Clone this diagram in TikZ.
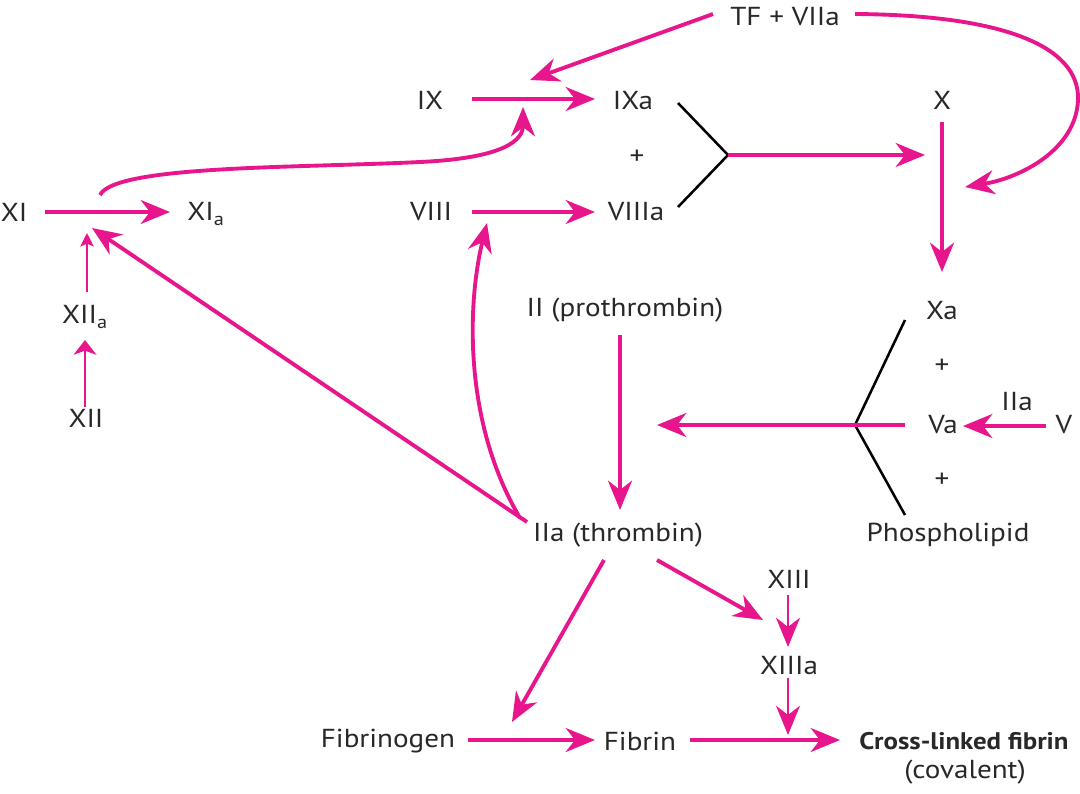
\documentclass[tikz,border=0pt]{standalone}
\usepackage{fontspec}
\setmainfont{PT Sans}[FakeStretch=1.12]
\usetikzlibrary{arrows.meta}
\definecolor{mag}{RGB}{232,22,140}
\definecolor{txt}{RGB}{40,40,40}
\begin{document}
\begin{tikzpicture}[x=0.75pt,y=-0.75pt,
  lbl/.style={font=\fontsize{19.5}{22}\selectfont, text=txt, inner sep=0pt},
  arr/.style={draw=mag, line width=2.9pt, -{Stealth[length=22pt,width=18pt,inset=7pt]}},
  sarr/.style={draw=mag, line width=1.8pt, -{Stealth[length=22pt,width=18pt,inset=7pt]}},
  tarr/.style={draw=mag, line width=2pt, -{Stealth[length=11pt,width=17pt,inset=3pt]}},
  uarr/.style={draw=mag, line width=1.8pt, -{Stealth[length=10pt,width=10pt,inset=2pt]}},
  brk/.style={draw=black, line width=1.9pt}]
\useasboundingbox (0,0) rectangle (1080,793);
% nodes
\node[lbl] (TF) at (785,17) {TF + VIIa};
\node[lbl] (IX) at (430,100) {IX};
\node[lbl] (IXa) at (633,100) {IXa};
\node[lbl] (p1) at (637,157) {+};
\node[lbl] (VIIIa) at (636,212) {VIIIa};
\node[lbl] (VIII) at (431,212) {VIII};
\node[lbl] (X) at (942,100) {X};
\node[lbl] (XI) at (14,212) {XI};
\node[lbl] (XIa) at (206,214) {XI\textsubscript{a}};
\node[lbl] (XIIa) at (85,317) {XII\textsubscript{a}};
\node[lbl] (XII) at (86,418) {XII};
\node[lbl] (II) at (625,310) {II (prothrombin)};
\node[lbl] (Xa) at (942,310) {Xa};
\node[lbl] (p2) at (942,366) {+};
\node[lbl] (Va) at (943,425) {Va};
\node[lbl] (IIa) at (1017,401) {IIa};
\node[lbl] (V) at (1064,425) {V};
\node[lbl] (p3) at (942,480) {+};
\node[lbl] (PL) at (948,535) {Phospholipid};
\node[lbl] (thr) at (618,535) {IIa (thrombin)};
\node[lbl] (XIII) at (789,579) {XIII};
\node[lbl] (XIIIa) at (789,665) {XIIIa};
\node[lbl] (Fbg) at (388,741) {Fibrinogen};
\node[lbl] (Fb) at (640,741) {Fibrin};
\node[lbl,font=\fontsize{18}{22}\selectfont\bfseries] (CL) at (964,741) {Cross-linked fibrin};
\node[lbl] (cov) at (965,772) {(covalent)};
% connector end points
\coordinate (tfL) at (713,14);   \coordinate (tfLt) at (530,80);
\coordinate (tfR) at (855,14);   \coordinate (tfRt) at (965,187);
\coordinate (ixs) at (472,99);   \coordinate (ixt) at (595,99);
\coordinate (viiis) at (472,212); \coordinate (viiit) at (595,212);
\coordinate (b1a) at (678,103);  \coordinate (v1) at (728,155); \coordinate (b1b) at (678,207);
\coordinate (xt) at (925,155);
\coordinate (xs) at (942,122);   \coordinate (xat) at (942,272);
\coordinate (xis) at (45,212);   \coordinate (xit) at (170,212);
\coordinate (xics) at (100,195); \coordinate (xict) at (523,107);
\coordinate (xiis) at (85,407);  \coordinate (xiit) at (85,340);
\coordinate (xiias) at (87,292); \coordinate (xiiat) at (87,233);
\coordinate (ds) at (527,522);   \coordinate (dt) at (92,228);
\coordinate (cs) at (520,518);   \coordinate (ct) at (487,223);
\coordinate (iis) at (620,335);  \coordinate (iit) at (620,510);
\coordinate (b2a) at (905,320);  \coordinate (v2) at (855,425); \coordinate (b2b) at (905,515);
\coordinate (vas) at (905,425);  \coordinate (vat) at (657,425);
\coordinate (vs) at (1046,426);  \coordinate (vt) at (963,426);
\coordinate (fgs) at (604,560);  \coordinate (fgt) at (512,722);
\coordinate (x13s) at (657,560); \coordinate (x13t) at (763,620);
\coordinate (a13s) at (788,595); \coordinate (a13t) at (788,647);
\coordinate (c13s) at (788,678); \coordinate (c13t) at (788,735);
\coordinate (fbs) at (468,740);  \coordinate (fbt) at (595,740);
\coordinate (cls) at (690,740);  \coordinate (clt) at (840,740);
% connectors
\draw[arr] (tfL) -- (tfLt);
\draw[arr] (tfR) .. controls (1000,15) and (1080,45) .. (1078,100) .. controls (1076,150) and (1020,178) .. (tfRt);
\draw[arr] (ixs) -- (ixt);
\draw[arr] (viiis) -- (viiit);
\draw[brk] (b1a) -- (v1) -- (b1b);
\draw[arr] (v1) -- (xt);
\draw[arr] (xs) -- (xat);
\draw[arr] (xis) -- (xit);
\draw[arr] (xics) .. controls (115,165) and (300,168) .. (420,162) .. controls (505,158) and (523,140) .. (xict);
\draw[tarr] (xiis) -- (xiit);
\draw[uarr] (xiias) -- (xiiat);
\draw[arr] (ds) -- (dt);
\draw[arr] (cs) .. controls (462,420) and (468,300) .. (ct);
\draw[arr] (iis) -- (iit);
\draw[brk] (b2a) -- (v2) -- (b2b);
\draw[arr] (vas) -- (vat);
\draw[arr] (vs) -- (vt);
\draw[arr] (fgs) -- (fgt);
\draw[arr] (x13s) -- (x13t);
\draw[sarr] (a13s) -- (a13t);
\draw[sarr] (c13s) -- (c13t);
\draw[arr] (fbs) -- (fbt);
\draw[arr] (cls) -- (clt);
\end{tikzpicture}
\end{document}
